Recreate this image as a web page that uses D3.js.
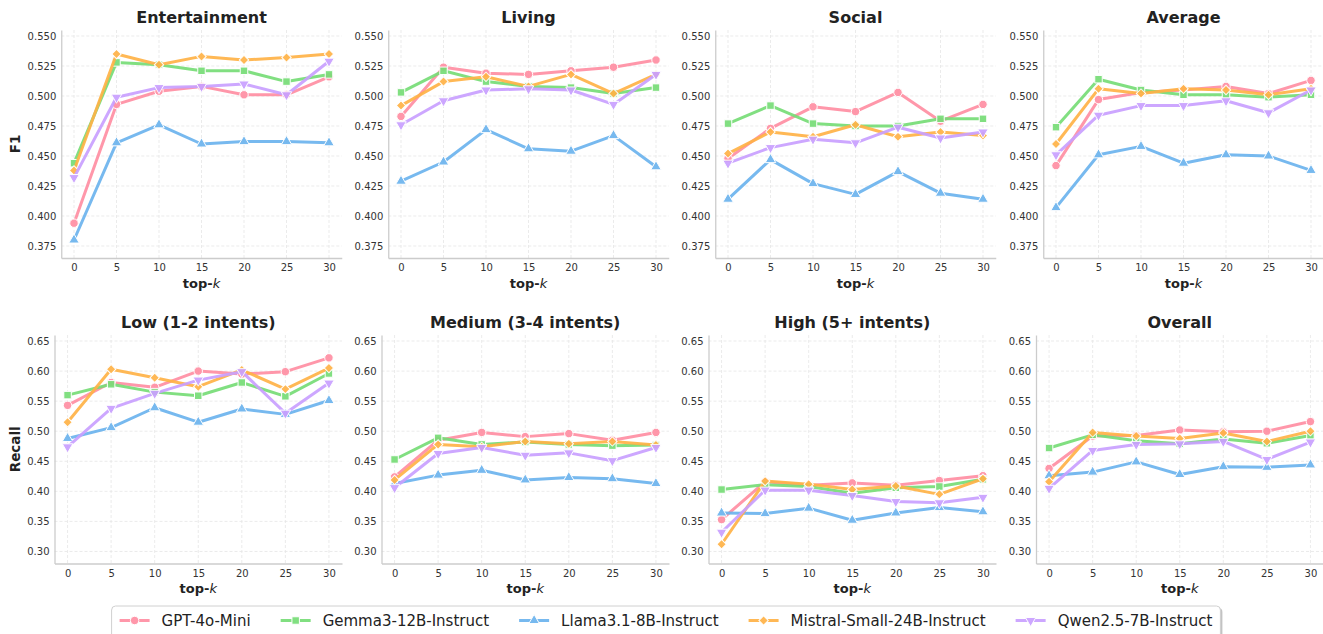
<!DOCTYPE html>
<html>
<head>
<meta charset="utf-8">
<script src="https://cdn.jsdelivr.net/npm/d3@7"></script>
<style>
  body { margin: 0; background: #fff; }
  svg { display: block; }
  text { font-family: "DejaVu Sans", sans-serif; }
</style>
</head>
<body>
<svg id="chart" width="1323" height="634"></svg>
<script>
// ---- data -------------------------------------------------------------
const topK = [0, 5, 10, 15, 20, 25, 30];
const models = ["GPT-4o-Mini", "Gemma3-12B-Instruct", "Llama3.1-8B-Instruct", "Mistral-Small-24B-Instruct", "Qwen2.5-7B-Instruct"];

// F1 by domain (rows follow the model order above)
const entertainment = [
  [0.394, 0.493, 0.504, 0.508, 0.501, 0.501, 0.516],
  [0.444, 0.528, 0.526, 0.521, 0.521, 0.512, 0.518],
  [0.380, 0.461, 0.476, 0.460, 0.462, 0.462, 0.461],
  [0.438, 0.535, 0.526, 0.533, 0.530, 0.532, 0.535],
  [0.432, 0.499, 0.507, 0.508, 0.510, 0.501, 0.529]
];
const living = [
  [0.483, 0.524, 0.519, 0.518, 0.521, 0.524, 0.530],
  [0.503, 0.521, 0.512, 0.508, 0.507, 0.502, 0.507],
  [0.429, 0.445, 0.472, 0.456, 0.454, 0.467, 0.441],
  [0.492, 0.512, 0.516, 0.508, 0.518, 0.502, 0.518],
  [0.476, 0.496, 0.505, 0.506, 0.505, 0.493, 0.518]
];
const social = [
  [0.448, 0.473, 0.491, 0.487, 0.503, 0.479, 0.493],
  [0.477, 0.492, 0.477, 0.475, 0.475, 0.481, 0.481],
  [0.414, 0.447, 0.427, 0.418, 0.437, 0.419, 0.414],
  [0.452, 0.470, 0.466, 0.476, 0.466, 0.470, 0.467],
  [0.444, 0.457, 0.464, 0.461, 0.474, 0.465, 0.470]
];
const average = [
  [0.442, 0.497, 0.503, 0.505, 0.508, 0.502, 0.513],
  [0.474, 0.514, 0.505, 0.501, 0.501, 0.499, 0.501],
  [0.407, 0.451, 0.458, 0.444, 0.451, 0.450, 0.438],
  [0.460, 0.506, 0.502, 0.506, 0.505, 0.501, 0.506],
  [0.451, 0.484, 0.492, 0.492, 0.496, 0.486, 0.505]
];

// Recall by intent count
const low = [
  [0.543, 0.581, 0.573, 0.600, 0.595, 0.599, 0.622],
  [0.560, 0.578, 0.565, 0.559, 0.581, 0.558, 0.596],
  [0.488, 0.506, 0.539, 0.515, 0.537, 0.528, 0.551],
  [0.515, 0.603, 0.589, 0.574, 0.602, 0.570, 0.605],
  [0.474, 0.538, 0.563, 0.585, 0.599, 0.530, 0.580]
];
const medium = [
  [0.424, 0.485, 0.498, 0.491, 0.496, 0.485, 0.498],
  [0.453, 0.489, 0.478, 0.482, 0.478, 0.476, 0.477],
  [0.413, 0.427, 0.435, 0.419, 0.423, 0.421, 0.413],
  [0.419, 0.478, 0.474, 0.483, 0.479, 0.483, 0.477],
  [0.406, 0.463, 0.473, 0.460, 0.464, 0.451, 0.473]
];
const high = [
  [0.353, 0.416, 0.410, 0.414, 0.410, 0.418, 0.426],
  [0.403, 0.411, 0.408, 0.397, 0.406, 0.408, 0.420],
  [0.364, 0.363, 0.372, 0.352, 0.364, 0.373, 0.366],
  [0.312, 0.417, 0.412, 0.403, 0.409, 0.395, 0.421],
  [0.332, 0.402, 0.402, 0.393, 0.383, 0.381, 0.390]
];
const overall = [
  [0.438, 0.492, 0.493, 0.502, 0.499, 0.500, 0.516],
  [0.472, 0.494, 0.484, 0.479, 0.487, 0.480, 0.493],
  [0.426, 0.432, 0.449, 0.428, 0.441, 0.440, 0.444],
  [0.416, 0.498, 0.492, 0.488, 0.497, 0.483, 0.500],
  [0.405, 0.468, 0.478, 0.479, 0.483, 0.453, 0.482]
];

const f1Ticks = [0.375, 0.400, 0.425, 0.450, 0.475, 0.500, 0.525, 0.550];
const recallTicks = [0.30, 0.35, 0.40, 0.45, 0.50, 0.55, 0.60, 0.65];

// ---- styling ----------------------------------------------------------
const colors = ["#ff8fa3", "#77dd77", "#6cb4ee", "#ffb347", "#c9a0ff"];
const markers = ["circle", "square", "triUp", "diamond", "triDown"];

const rows = [
  { top: 30, bottom: 258, width: 280.5, lefts: [61.25, 388.25, 715.25, 1043.25],
    domain: [0.365, 0.555], ticks: f1Ticks, fmt: d3.format(".3f"), label: "F1",
    panels: [["Entertainment", entertainment], ["Living", living], ["Social", social], ["Average", average]] },
  { top: 335, bottom: 563.5, width: 287.5, lefts: [54.5, 381.5, 708.5, 1036],
    domain: [0.28, 0.66], ticks: recallTicks, fmt: d3.format(".2f"), label: "Recall",
    panels: [["Low (1-2 intents)", low], ["Medium (3-4 intents)", medium], ["High (5+ intents)", high], ["Overall", overall]] }
];

const svg = d3.select("#chart");
svg.append("rect").attr("width", 1323).attr("height", 634).attr("fill", "#fff");

function markerPath(kind) {
  switch (kind) {
    case "circle": return d3.symbol().type(d3.symbolCircle).size(56)();
    case "square": return d3.symbol().type(d3.symbolSquare).size(56)();
    case "triUp": return d3.symbol().type(d3.symbolTriangle).size(48)();
    case "triDown": return d3.symbol().type(d3.symbolTriangle).size(48)();
    case "diamond": return d3.symbol().type(d3.symbolSquare).size(44)();
  }
}
function markerRotate(kind) {
  if (kind === "diamond") return 45;
  if (kind === "triDown") return 180;
  return 0;
}

function drawMarker(g, kind, x, y, color) {
  g.append("path")
    .attr("d", markerPath(kind))
    .attr("transform", `translate(${x},${y}) rotate(${markerRotate(kind)})`)
    .attr("fill", color)
    .attr("stroke", "#fff")
    .attr("stroke-width", 1);
}

rows.forEach((row, ri) => {
  row.panels.forEach(([title, series], pi) => {
    const left = row.lefts[pi];
    const x = d3.scaleLinear().domain([-1.5, 31.5]).range([left, left + row.width]);
    const y = d3.scaleLinear().domain(row.domain).range([row.bottom, row.top]);
    const g = svg.append("g").attr("class", "panel");

    // grid
    const grid = g.append("g").attr("stroke", "#e6e6e6").attr("stroke-width", 0.8)
      .attr("stroke-dasharray", "3,2");
    grid.selectAll("line.h").data(row.ticks).join("line")
      .attr("x1", x.range()[0]).attr("x2", x.range()[1])
      .attr("y1", d => y(d)).attr("y2", d => y(d));
    grid.selectAll("line.v").data(topK).join("line")
      .attr("x1", d => x(d)).attr("x2", d => x(d))
      .attr("y1", row.top).attr("y2", row.bottom);

    // axes
    const yAxis = g.append("g").attr("transform", `translate(${left},0)`)
      .call(d3.axisLeft(y).tickValues(row.ticks).tickFormat(row.fmt).tickSize(0).tickPadding(5));
    const xAxis = g.append("g").attr("transform", `translate(0,${row.bottom})`)
      .call(d3.axisBottom(x).tickValues(topK).tickSize(0).tickPadding(6));
    [yAxis, xAxis].forEach(a => {
      a.select(".domain").attr("stroke", "#cccccc").attr("stroke-width", 1.3);
      a.selectAll(".tick text").attr("fill", "#333").style("font-size", "10px")
        .style("font-family", '"DejaVu Sans", sans-serif');
    });

    // series
    const line = d3.line().x((d, i) => x(topK[i])).y(d => y(d));
    series.forEach((vals, mi) => {
      const sg = g.append("g").attr("opacity", 0.92);
      sg.append("path").attr("d", line(vals))
        .attr("fill", "none").attr("stroke", colors[mi]).attr("stroke-width", 3)
        .attr("stroke-linejoin", "round");
      vals.forEach((v, i) => drawMarker(sg, markers[mi], x(topK[i]), y(v), colors[mi]));
    });

    // title
    g.append("text").attr("x", left + row.width / 2).attr("y", row.top - 7)
      .attr("text-anchor", "middle").attr("font-size", 16).attr("font-weight", "bold")
      .attr("fill", "#222").text(title);

    // x label
    const xl = g.append("text").attr("x", left + row.width / 2).attr("y", row.bottom + 29.5)
      .attr("text-anchor", "middle").attr("font-size", 13).attr("font-weight", "bold")
      .attr("fill", "#222");
    xl.append("tspan").text("top-");
    xl.append("tspan").attr("font-style", "italic").attr("font-weight", "normal").text("k");

    // y label on first column
    if (pi === 0) {
      const cy = (row.top + row.bottom) / 2;
      g.append("text").attr("transform", `translate(20,${cy}) rotate(-90)`)
        .attr("text-anchor", "middle").attr("font-size", 13.5).attr("font-weight", "bold")
        .attr("fill", "#222").text(row.label);
    }
  });
});

// ---- legend -----------------------------------------------------------
const fs = 15, handleLen = 30, textPad = 12, colGap = 30, pad = 8;
const legend = svg.append("g");
const cy = 620.5;
const items = models.map((m, i) => {
  const t = legend.append("text").attr("font-size", fs).attr("fill", "#222")
    .attr("dominant-baseline", "central").text(m);
  return { t, w: t.node().getComputedTextLength(), i };
});
const total = items.reduce((s, it) => s + handleLen + textPad + it.w, 0) + colGap * (items.length - 1);
let cx = 666 - total / 2;
const boxL = cx - pad, boxR = cx + total + pad;
legend.insert("rect", ":first-child")
  .attr("x", boxL + 2).attr("y", 606 + 2).attr("width", boxR - boxL).attr("height", 34)
  .attr("rx", 4).attr("fill", "#888").attr("opacity", 0.5);
legend.insert("rect", "text")
  .attr("x", boxL).attr("y", 606).attr("width", boxR - boxL).attr("height", 34)
  .attr("rx", 4).attr("fill", "#fff").attr("stroke", "#d0d0d0").attr("stroke-width", 1);
items.forEach(it => {
  const hg = legend.append("g").attr("opacity", 0.92);
  hg.append("line").attr("x1", cx).attr("x2", cx + handleLen).attr("y1", cy).attr("y2", cy)
    .attr("stroke", colors[it.i]).attr("stroke-width", 3);
  drawMarker(hg, markers[it.i], cx + handleLen / 2, cy, colors[it.i]);
  it.t.attr("x", cx + handleLen + textPad).attr("y", cy);
  cx += handleLen + textPad + it.w + colGap;
});
</script>
</body>
</html>
